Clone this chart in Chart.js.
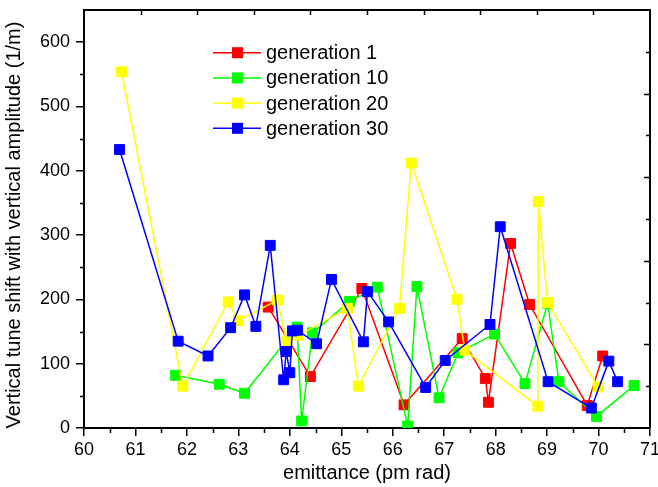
<!DOCTYPE html>
<html>
<head>
<meta charset="utf-8">
<script src="https://cdn.jsdelivr.net/npm/chart.js@4"></script>
<style>
    body { margin: 0; background: #fff; }
    canvas { display: block; }
</style>
</head>
<body>
<canvas id="tuneChart" width="658" height="487"></canvas>
<script>
// values
const seriesNames = ['generation 1', 'generation 10', 'generation 20', 'generation 30'];
const seriesColors = ['#ff0000', '#00ff00', '#ffff00', '#0000ff'];

const gen1X = [63.58, 64.40, 65.40, 66.22, 67.35, 67.80, 67.86, 68.29, 68.66, 69.78, 70.08];
const gen1Y = [188, 80, 217, 36, 139, 77, 40, 287, 192, 35, 112];

const gen10X = [61.78, 62.63, 63.12, 64.14, 64.23, 64.44, 65.16, 65.70, 66.29, 66.47, 66.90, 67.27, 67.98, 68.57, 69.01, 69.23, 69.96, 70.69];
const gen10Y = [82, 68, 54, 157, 11, 148, 197, 219, 3, 220, 47, 117, 146, 69, 194, 72, 18, 66];

const gen20X = [60.73, 61.92, 62.80, 63.00, 63.76, 63.94, 64.17, 65.12, 65.33, 66.13, 66.36, 67.25, 67.40, 68.82, 68.83, 69.01, 69.99];
const gen20Y = [554, 65, 196, 167, 199, 134, 144, 186, 65, 186, 412, 200, 121, 34, 352, 195, 64];

const gen30X = [60.69, 61.83, 62.41, 62.85, 63.12, 63.34, 63.62, 63.88, 63.93, 64.00, 64.05, 64.15, 64.52, 64.81, 65.43, 65.51, 65.92, 66.64, 67.02, 67.89, 68.09, 69.02, 69.86, 70.20, 70.37];
const gen30Y = [433, 135, 112, 156, 207, 158, 284, 75, 119, 86, 151, 152, 131, 231, 134, 212, 165, 63, 105, 161, 313, 72, 31, 104, 72];

const xTicks = [60, 61, 62, 63, 64, 65, 66, 67, 68, 69, 70, 71];
const yTicks = [0, 100, 200, 300, 400, 500, 600];

const yTitle = 'Vertical tune shift with vertical amplitude (1/m)';
const FONT = 'Arial, "Liberation Sans", sans-serif';

function toPoints(xs, ys) {
    return xs.map((x, i) => ({ x: x, y: ys[i] }));
}

function makeDataset(idx, xs, ys) {
    return {
        label: seriesNames[idx],
        data: toPoints(xs, ys),
        borderColor: seriesColors[idx],
        backgroundColor: seriesColors[idx],
        borderWidth: 1.5,
        pointStyle: 'rect',
        pointRadius: 7,
        pointBorderWidth: 1,
        pointHoverRadius: 7,
        tension: 0,
        order: 4 - idx
    };
}

// frame, minor ticks, inward ticks on top/right, y title and the legend box
const framePlugin = {
    id: 'framePlugin',
    afterDraw(chart) {
        const ctx = chart.ctx;
        const area = chart.chartArea;
        const xs = chart.scales.x;
        const ys = chart.scales.y;
        ctx.save();
        ctx.strokeStyle = '#000';
        ctx.lineWidth = 1.5;

        // minor ticks bottom / left
        ctx.beginPath();
        for (let v = 60.5; v < 71; v += 1) {
            const px = Math.round(xs.getPixelForValue(v)) + 0.5;
            ctx.moveTo(px, area.bottom);
            ctx.lineTo(px, area.bottom + 5);
        }
        for (let v = 50; v < 650; v += 100) {
            const py = Math.round(ys.getPixelForValue(v)) + 0.5;
            ctx.moveTo(area.left, py);
            ctx.lineTo(area.left - 4, py);
        }
        // top axis, 10 divisions, pointing in
        const w = area.right - area.left;
        for (let k = 1; k < 10; k++) {
            const px = Math.round(area.left + k * w / 10) + 0.5;
            ctx.moveTo(px, area.top);
            ctx.lineTo(px, area.top + 5);
        }
        // right axis, 10 divisions, pointing in
        const h = area.bottom - area.top;
        for (let k = 1; k < 10; k++) {
            const py = Math.round(area.bottom - k * h / 10) + 0.5;
            ctx.moveTo(area.right, py);
            ctx.lineTo(area.right - (k % 2 === 0 ? 6 : 4), py);
        }
        ctx.stroke();

        // top and right frame lines
        ctx.lineWidth = 2;
        ctx.beginPath();
        ctx.moveTo(area.left, area.top);
        ctx.lineTo(area.right, area.top);
        ctx.lineTo(area.right, area.bottom);
        ctx.stroke();

        // y title, sits a bit below the plot centre in the original
        ctx.save();
        ctx.translate(14, 225);
        ctx.rotate(-Math.PI / 2);
        ctx.fillStyle = '#000';
        ctx.font = '20px ' + FONT;
        ctx.textAlign = 'center';
        ctx.textBaseline = 'middle';
        ctx.fillText(yTitle, 0, 0);
        ctx.restore();

        // legend
        const lx = 213, ly = 52.7, gap = 25.2;
        chart.data.datasets.forEach((ds, i) => {
            const y = ly + i * gap;
            ctx.strokeStyle = ds.borderColor;
            ctx.lineWidth = 1.5;
            ctx.beginPath();
            ctx.moveTo(lx, y);
            ctx.lineTo(lx + 48, y);
            ctx.stroke();
            ctx.fillStyle = ds.backgroundColor;
            ctx.fillRect(lx + 19, y - 5.5, 11, 11);
            ctx.fillStyle = '#000';
            ctx.font = '20px ' + FONT;
            ctx.textAlign = 'left';
            ctx.textBaseline = 'alphabetic';
            ctx.fillText(ds.label, lx + 53, y + 6.5);
        });
        ctx.restore();
    }
};

const ctx = document.getElementById('tuneChart').getContext('2d');
new Chart(ctx, {
    type: 'line',
    data: {
        datasets: [
            makeDataset(0, gen1X, gen1Y),
            makeDataset(1, gen10X, gen10Y),
            makeDataset(2, gen20X, gen20Y),
            makeDataset(3, gen30X, gen30Y)
        ]
    },
    options: {
        responsive: false,
        animation: false,
        events: [],
        layout: {
            padding: { left: 0, right: 6, top: 10, bottom: 0 }
        },
        plugins: {
            legend: { display: false },
            tooltip: { enabled: false }
        },
        scales: {
            x: {
                type: 'linear',
                min: 60,
                max: 71,
                afterBuildTicks: scale => {
                    scale.ticks = xTicks.map(v => ({ value: v }));
                },
                afterFit: scale => {
                    scale.height = 59;
                    scale.paddingLeft = 0;
                    scale.paddingRight = 0;
                },
                grid: {
                    drawOnChartArea: false,
                    color: '#000',
                    lineWidth: 1.5,
                    tickLength: 8
                },
                border: { display: true, color: '#000', width: 2 },
                ticks: {
                    color: '#000',
                    font: { family: FONT, size: 18 },
                    padding: 3,
                    maxRotation: 0
                },
                title: {
                    display: true,
                    text: 'emittance (pm rad)',
                    color: '#000',
                    font: { family: FONT, size: 20 },
                    padding: { top: 0, bottom: 2 }
                }
            },
            y: {
                type: 'linear',
                min: 0,
                max: 650,
                afterBuildTicks: scale => {
                    scale.ticks = yTicks.map(v => ({ value: v }));
                },
                afterFit: scale => {
                    scale.width = 84;
                    scale.paddingTop = 0;
                    scale.paddingBottom = 0;
                },
                grid: {
                    drawOnChartArea: false,
                    color: '#000',
                    lineWidth: 1.5,
                    tickLength: 8
                },
                border: { display: true, color: '#000', width: 2 },
                ticks: {
                    color: '#000',
                    font: { family: FONT, size: 18 },
                    padding: 6
                },
                title: { display: false }
            }
        }
    },
    plugins: [framePlugin]
});
</script>
</body>
</html>
